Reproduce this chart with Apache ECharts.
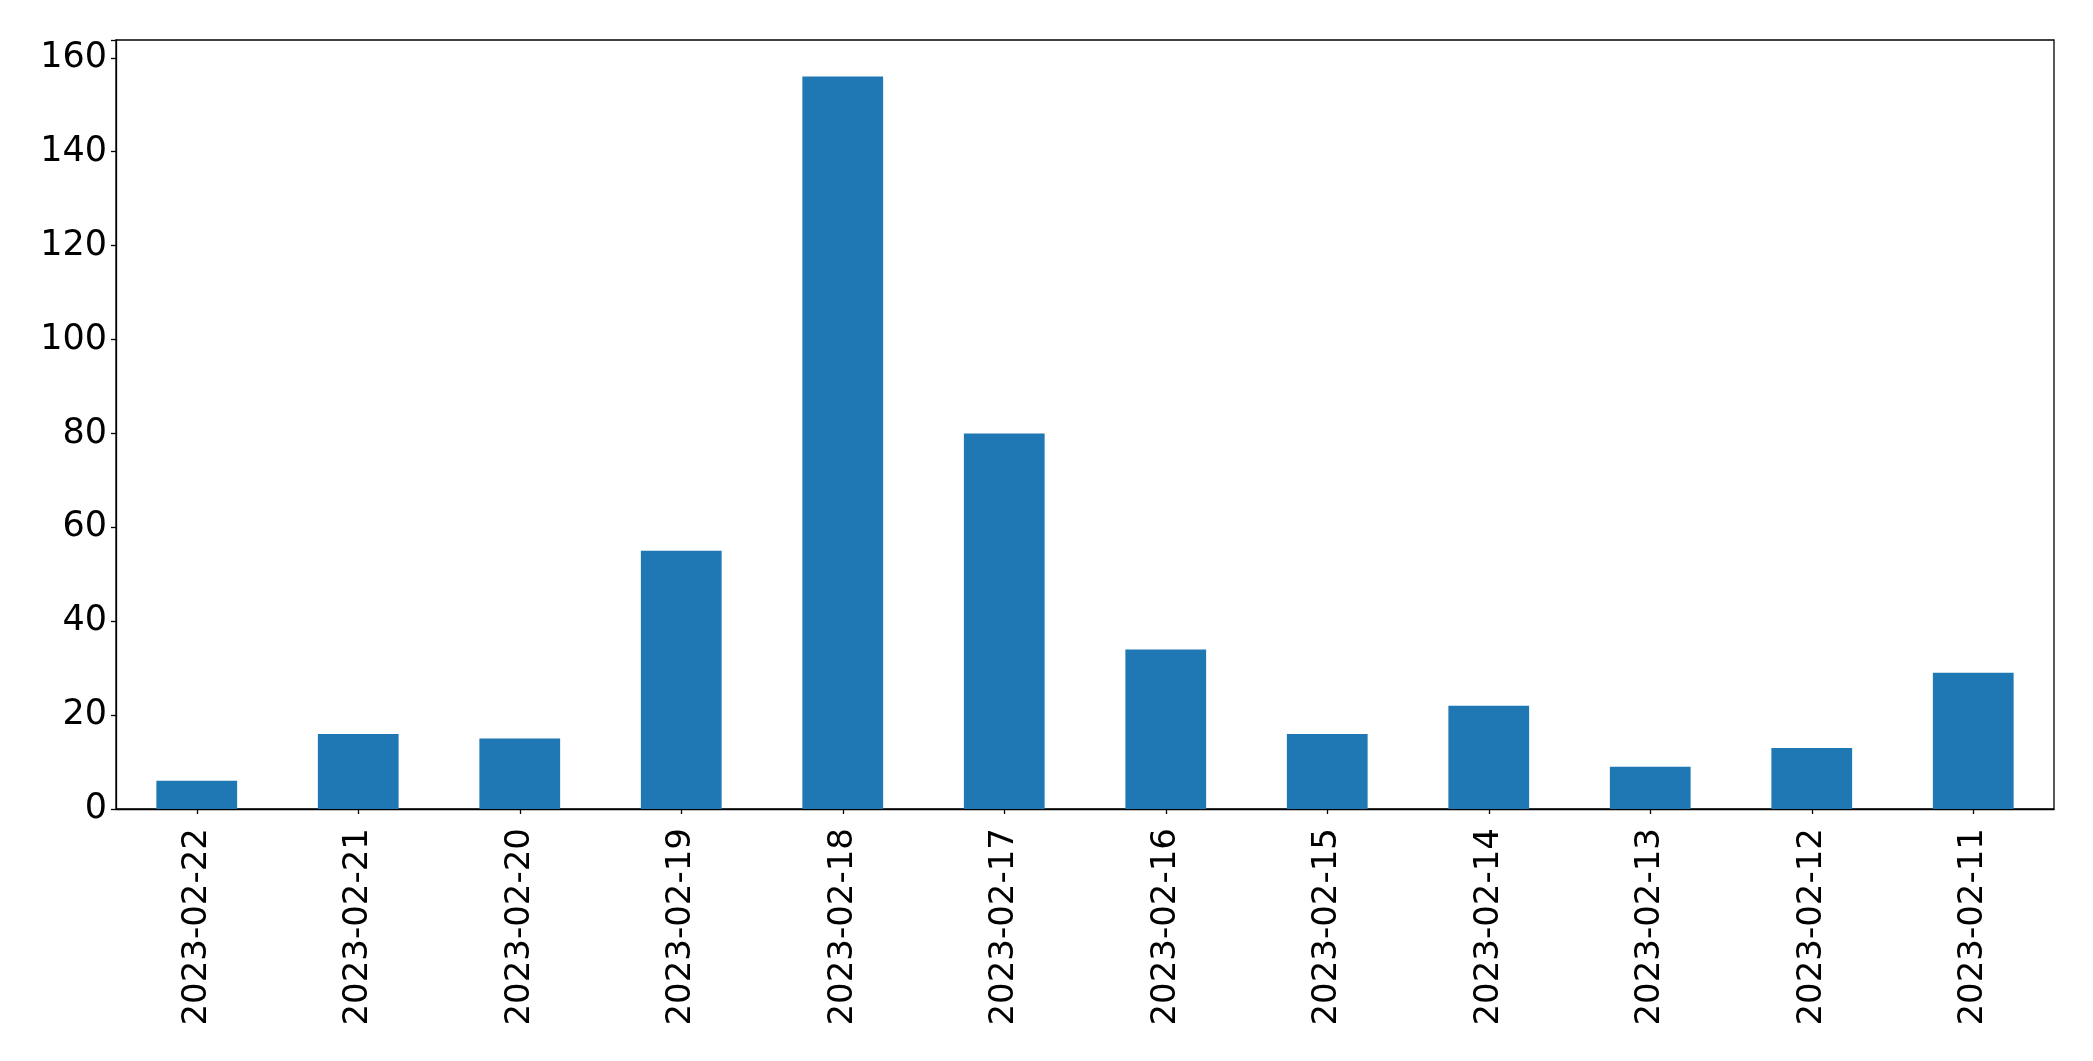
<!DOCTYPE html>
<html>
<head>
<meta charset="utf-8">
<script src="https://cdn.jsdelivr.net/npm/echarts@6/dist/echarts.min.js"></script>
<style>
html,body{margin:0;padding:0;background:#fff;}
#chart{width:2093px;height:1061px;}
</style>
</head>
<body>
<div id="chart"></div>
<script>
const categories = ['2023-02-22','2023-02-21','2023-02-20','2023-02-19','2023-02-18','2023-02-17','2023-02-16','2023-02-15','2023-02-14','2023-02-13','2023-02-12','2023-02-11'];
const values = [6, 16, 15, 55, 156, 80, 34, 16, 22, 9, 13, 29];
const yTicks = [0, 20, 40, 60, 80, 100, 120, 140, 160];

const chart = echarts.init(document.getElementById('chart'));
const font = 'DejaVu Sans';
chart.setOption({
  animation: false,
  grid: {left: 116, right: 39, top: 40, bottom: 252, show: true, borderColor: '#000', borderWidth: 1.3},
  xAxis: {
    type: 'category',
    data: categories,
    axisLine: {show: true, lineStyle: {color: '#000', width: 1.3}},
    axisTick: {show: true, alignWithLabel: true, length: 5, lineStyle: {color: '#000', width: 1.3}},
    axisLabel: {rotate: 90, fontSize: 34, fontFamily: font, color: '#000', margin: 19}
  },
  yAxis: {
    type: 'value',
    min: 0,
    max: 163.8,
    interval: 20,
    splitLine: {show: false},
    axisLine: {show: true, lineStyle: {color: '#000', width: 1.3}},
    axisTick: {show: true, length: 5, lineStyle: {color: '#000', width: 1.3}},
    axisLabel: {fontSize: 35, fontFamily: font, color: '#000', margin: 9,
      formatter: function(v){ return yTicks.indexOf(v) >= 0 ? String(v) : ''; }}
  },
  series: [{
    type: 'bar',
    data: values,
    barWidth: '50%',
    itemStyle: {color: '#1f77b4'}
  }]
});
</script>
</body>
</html>
